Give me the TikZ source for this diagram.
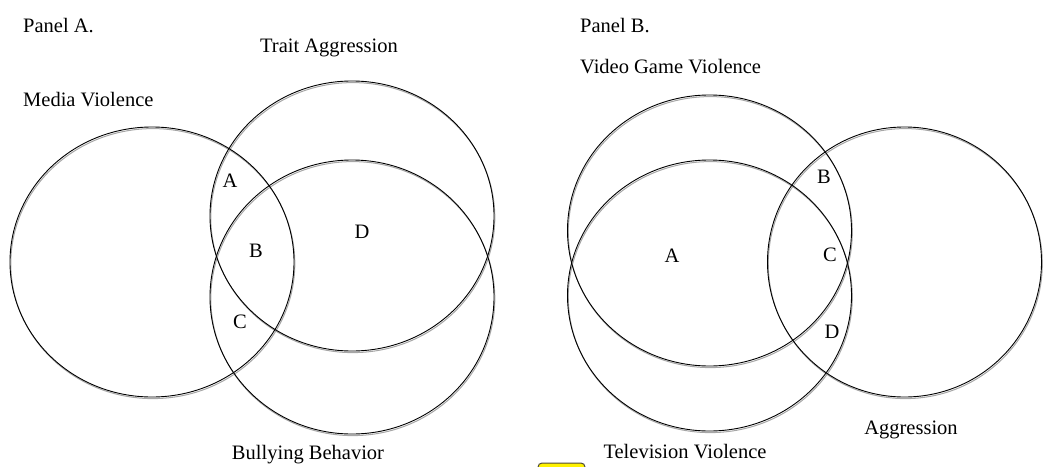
\documentclass[tikz,border=0pt]{standalone}
\usepackage{fontspec}
\setmainfont{Liberation Serif}
\begin{document}
\begin{tikzpicture}[x=1pt,y=-1pt,
  lbl/.style={font=\fontsize{20.5}{24}\selectfont, inner sep=0pt},
  shadowline/.style={draw=black!35, line width=1pt},
  ringline/.style={draw=black, line width=0.9pt}]
\useasboundingbox (0,0) rectangle (1043,466);
\clip (0,0) rectangle (1043,466);
% circle centres
\coordinate (mv) at (152,262);
\coordinate (ta) at (352,216);
\coordinate (bb) at (352,297);
\coordinate (vg) at (709.5,230.5);
\coordinate (tv) at (709.5,295.5);
\coordinate (ag) at (904.5,262);
% shadows
\foreach \c/\rx/\ry in {mv/142/135, ta/142/135, bb/142/137, vg/142/135.5, tv/142/135.5, ag/137/135}{
  \draw[shadowline] ([shift={(0.8,1.6)}]\c) ellipse [x radius=\rx pt, y radius=\ry pt];
}
\foreach \c/\rx/\ry in {mv/142/135, ta/142/135, bb/142/137, vg/142/135.5, tv/142/135.5, ag/137/135}{
  \draw[ringline] (\c) ellipse [x radius=\rx pt, y radius=\ry pt];
}
% Panel A labels
\node[lbl, anchor=base west] (pa) at (23,32) {Panel A.};
\node[lbl, anchor=base west] (mvl) at (23,106) {Media Violence};
\node[lbl] (tal) at (329,48) {Trait Aggression};
\node[lbl] (bbl) at (308,455) {Bullying Behavior};
\node[lbl] (aA) at (230,181) {A};
\node[lbl] (aB) at (256,251) {B};
\node[lbl] (aC) at (240,322) {C};
\node[lbl] (aD) at (362,232) {D};
% Panel B labels
\node[lbl, anchor=base west] (pb) at (580,32) {Panel B.};
\node[lbl, anchor=base west] (vgl) at (580,73) {Video Game Violence};
\node[lbl] (tvl) at (685,452) {Television Violence};
\node[lbl] (agl) at (911,430) {Aggression};
\node[lbl] (bA) at (672,256) {A};
\node[lbl] (bB) at (824,177) {B};
\node[lbl] (bC) at (830,255) {C};
\node[lbl] (bD) at (832,332) {D};
% small yellow marker at bottom edge
\draw[draw=black!80!yellow, fill=yellow, line width=1pt, rounded corners=4pt] (538,463) rectangle (585,480);
\end{tikzpicture}
\end{document}
